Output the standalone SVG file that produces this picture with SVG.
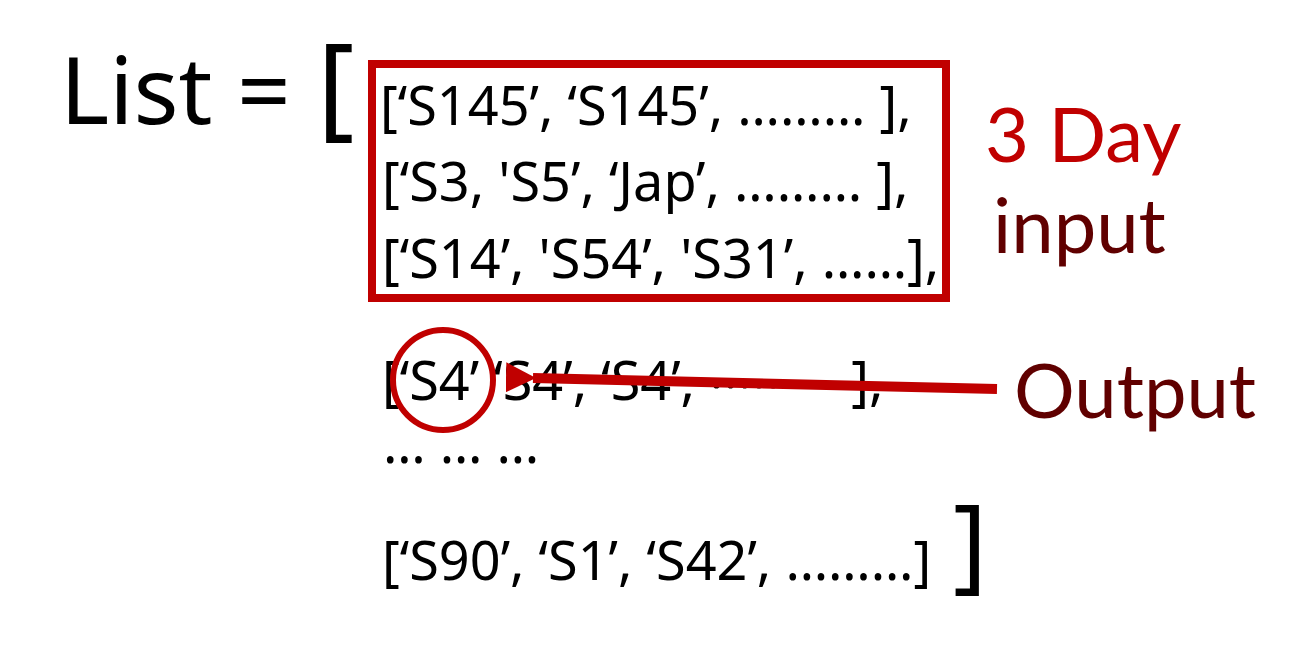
<svg xmlns="http://www.w3.org/2000/svg" width="1305" height="658" viewBox="0 0 1305 658">
<defs>
<style>
.lst{font-family:"Noto Sans","Open Sans",sans-serif;fill:#000;}
.big{font-size:94px;}
.row{font-size:54px;}
.lbl{font-family:Lato,"Open Sans",sans-serif;font-size:76px;}
</style>
<marker id="ah" viewBox="0 0 10 10" refX="1" refY="5" markerWidth="3" markerHeight="3" orient="auto" markerUnits="strokeWidth">
<path d="M10,0 L0,5 L10,10 Z" fill="#C00000"/>
</marker>
</defs>
<rect width="1305" height="658" fill="#fff"/>
<g id="title">
<text class="lst big" x="60" y="124">List = </text>
<text class="lst" x="317" y="125" font-size="114">[</text>
</g>
<g id="input-box">
<rect x="372" y="64" width="574" height="234" fill="none" stroke="#C00000" stroke-width="8"/>
<text class="lst row" x="380" y="125">[‘S145’, ‘S145’, ……… ],</text>
<text class="lst row" x="382" y="201">[‘S3, 'S5’, ‘Jap’, ……… ],</text>
<text class="lst row" x="382" y="278">[‘S14’, 'S54’, 'S31’, ……],</text>
</g>
<g id="rest">
<text class="lst row" x="382" y="400">[‘S4’ ‘S4’, ‘S4’, <tspan dy="-12">………</tspan><tspan dy="12"> ],</tspan></text>
<text class="lst row" x="383" y="463">… … …</text>
<text class="lst row" x="382" y="580">[‘S90’, ‘S1’, ‘S42’, ………]</text>
<text class="lst" x="953" y="580" font-size="104">]</text>
</g>
<g id="label-input">
<text class="lbl" x="985" y="162" fill="#C00000">3 Day</text>
<text class="lbl" x="993" y="253" fill="#600000">input</text>
</g>
<g id="label-output">
<text class="lbl" x="1014" y="418" fill="#600000">Output</text>
</g>
<g id="marker-circle">
<circle cx="443" cy="380" r="50" fill="none" stroke="#C00000" stroke-width="6"/>
</g>
<g id="connectors">
<line x1="997" y1="389" x2="533" y2="378" stroke="#C00000" stroke-width="10" marker-end="url(#ah)"/>
</g>
</svg>
